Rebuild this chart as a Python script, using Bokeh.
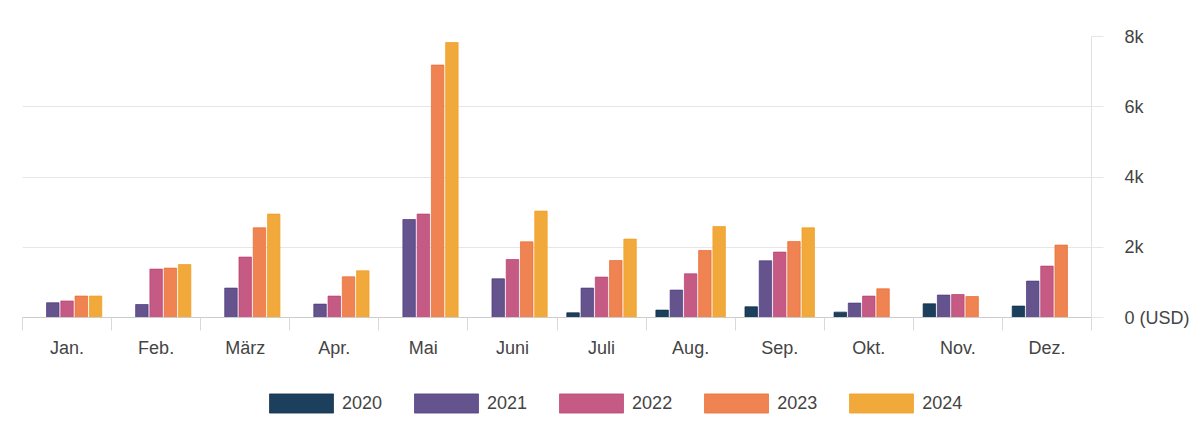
from bokeh.plotting import figure
from bokeh.layouts import column
from bokeh.models import Range1d, FixedTicker, Legend, LegendItem, ColumnDataSource
from bokeh.embed import file_html
from bokeh.resources import INLINE

months = ["Jan.", "Feb.", "März", "Apr.", "Mai", "Juni", "Juli", "Aug.", "Sep.", "Okt.", "Nov.", "Dez."]
years = ["2020", "2021", "2022", "2023", "2024"]
v2020 = [None, None, None, None, None, None, 134, 210, 305, 153, 390, 325]
v2021 = [420, 370, 837, 381, 2790, 1102, 837, 780, 1614, 410, 638, 1036]
v2022 = [470, 1378, 1720, 609, 2944, 1651, 1150, 1244, 1862, 609, 655, 1463]
v2023 = [610, 1406, 2554, 1159, 7186, 2155, 1623, 1908, 2164, 817, 598, 2061]
v2024 = [610, 1509, 2944, 1330, 7829, 3029, 2232, 2591, 2554, None, None, None]
series = [v2020, v2021, v2022, v2023, v2024]
colors = ["#1c3f5e", "#65538e", "#c55a85", "#ef8352", "#f2a93b"]
edges = ["#0e2a46", "#4a3780", "#b8406f", "#e86a30", "#ef9c1e"]
y_ticks = [0, 2000, 4000, 6000, 8000]
y_labels = ["0 (USD)", "2k", "4k", "6k", "8k"]

FONT = "Liberation Sans"
TXT = "#444444"

p = figure(width=1192, height=370, min_border_left=22, min_border_top=36,
           min_border_right=100, min_border_bottom=53,
           x_range=Range1d(0, len(months)), y_range=Range1d(0, 8000),
           y_axis_location="right", output_backend="svg", toolbar_location=None,
           background_fill_color="white", border_fill_color="white")
p.outline_line_color = None

slot = 0.16
for j, (vals, c, e) in enumerate(zip(series, colors, edges)):
    xs, tops = [], []
    for i, v in enumerate(vals):
        if v is not None:
            xs.append(i + 0.5 + (j - 2) * slot)
            tops.append(v)
    src = ColumnDataSource(dict(x=xs, top=tops))
    p.vbar(x="x", top="top", width=0.14, bottom=0, source=src,
           fill_color=c, line_color=e, line_width=1, line_alpha=0.7)

# x axis
xa = p.xaxis[0]
xa.ticker = FixedTicker(ticks=[i + 0.5 for i in range(len(months))],
                        minor_ticks=list(range(len(months) + 1)))
xa.major_label_overrides = {i + 0.5: m for i, m in enumerate(months)}
xa.major_tick_line_color = None
xa.minor_tick_line_color = "#d9d9d9"
xa.minor_tick_in = 0
xa.minor_tick_out = 13
xa.axis_line_color = "#cccccc"
xa.major_label_standoff = 7
xa.major_label_text_font = FONT
xa.major_label_text_font_size = "18px"
xa.major_label_text_color = TXT

# y axis (right)
ya = p.yaxis[0]
ya.ticker = FixedTicker(ticks=y_ticks, minor_ticks=[])
ya.major_label_overrides = {t: l for t, l in zip(y_ticks, y_labels)}
ya.axis_line_color = "#e0e0e0"
ya.major_tick_line_color = "#e6e6e6"
ya.major_tick_in = 0
ya.major_tick_out = 12
ya.major_label_standoff = 21
ya.major_label_text_font = FONT
ya.major_label_text_font_size = "18px"
ya.major_label_text_color = TXT

p.xgrid.grid_line_color = None
p.ygrid.grid_line_color = "#e6e6e6"
p.ygrid.ticker = FixedTicker(ticks=y_ticks)

# legend in its own strip below the chart (swatch renderers lie outside the visible range)
lg = figure(width=1192, height=55, min_border=0, x_axis_location=None, y_axis_location=None,
            output_backend="svg", toolbar_location=None, x_range=Range1d(0, 1), y_range=Range1d(0, 1),
            background_fill_color="white", border_fill_color="white")
lg.outline_line_color = None
lg.grid.visible = False
items = []
for y, c, e in zip(years, colors, edges):
    r = lg.vbar(x="x", top="top", bottom="bottom", width=0.1,
                source=ColumnDataSource(dict(x=[-5], top=[-5], bottom=[-6])),
                fill_color=c, line_color=e, line_width=1, line_alpha=0.7)
    items.append(LegendItem(label=y, renderers=[r]))
legend = Legend(items=items, orientation="horizontal", location=(239, 10),
                glyph_width=80, glyph_height=24, label_standoff=1, spacing=24,
                margin=0, padding=0, border_line_color=None, background_fill_alpha=0,
                label_text_font=FONT, label_text_font_size="18px", label_text_color=TXT)
lg.add_layout(legend, "center")

open("out.html", "w").write(file_html(column(p, lg, spacing=0), INLINE))
